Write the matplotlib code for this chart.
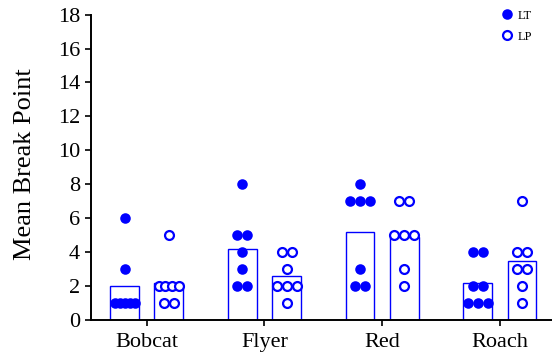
import numpy as np
import matplotlib.pyplot as plt
from matplotlib import rcParams

rcParams['font.family'] = ['Liberation Serif', 'DejaVu Serif']

# break points per animal
groups = ['Bobcat', 'Flyer', 'Red', 'Roach']
lt_values = [
    [6, 3, 1, 1, 1, 1, 1],
    [8, 5, 5, 4, 3, 2, 2],
    [8, 7, 7, 7, 3, 2, 2],
    [4, 4, 2, 2, 1, 1, 1],
]
lp_values = [
    [5, 2, 2, 2, 2, 1, 1],
    [4, 4, 3, 2, 2, 2, 1],
    [7, 7, 5, 5, 5, 3, 2],
    [7, 4, 4, 3, 3, 2, 1],
]
series_names = ['LT', 'LP']

BLUE = '#0000ff'


def spread(values, center, step=0.085, max_half=0.085):
    """equal values are laid out side by side around the center"""
    values = np.asarray(values, dtype=float)
    xs = np.zeros(len(values))
    for v in np.unique(values):
        idx = np.where(values == v)[0]
        n = len(idx)
        if n == 1:
            xs[idx] = center
            continue
        half = min(step * (n - 1) / 2.0, max_half)
        xs[idx] = center + np.linspace(-half, half, n)
    return xs, values


def draw():
    fig = plt.figure(figsize=(5.52, 3.53), dpi=100)
    ax = fig.add_axes([0.1649, 0.0949, 0.8351, 0.8635])

    x = np.arange(len(groups))
    off = 0.188
    width = 0.246

    lt_means = [np.mean(v) for v in lt_values]
    lp_means = [np.mean(v) for v in lp_values]
    ax.bar(x - off, lt_means, width, facecolor='white', edgecolor=BLUE,
           linewidth=1.0, zorder=2)
    ax.bar(x + off, lp_means, width, facecolor='white', edgecolor=BLUE,
           linewidth=1.0, zorder=2)

    for i in range(len(groups)):
        px, py = spread(lt_values[i], x[i] - off)
        ax.plot(px, py, 'o', color=BLUE, markersize=7.6, markeredgewidth=0,
                linestyle='none', zorder=3, label=series_names[0] if i == 0 else None)
        px, py = spread(lp_values[i], x[i] + off)
        ax.plot(px, py, 'o', markerfacecolor='white', markeredgecolor=BLUE,
                markersize=6.4, markeredgewidth=1.6, linestyle='none', zorder=3,
                label=series_names[1] if i == 0 else None)

    ax.set_xlim(-0.473, 3.443)
    ax.set_ylim(0, 18)
    ax.set_yticks(np.arange(0, 19, 2))
    ax.set_xticks(x)
    ax.set_xticklabels(groups)
    ax.tick_params(labelsize=16, width=1.2, length=4.5, color='black')
    ax.tick_params(axis='x', pad=5)
    ax.spines['top'].set_visible(False)
    ax.spines['right'].set_visible(False)
    ax.spines['left'].set_linewidth(1.4)
    ax.spines['bottom'].set_linewidth(1.4)
    ax.spines['left'].set_bounds(0, 18)
    ax.set_ylabel('Mean Break Point', fontsize=19)
    ax.yaxis.set_label_coords(-0.119, 0.51)

    ax.legend(loc='upper right', bbox_to_anchor=(0.982, 1.053), frameon=False,
              fontsize=9, handlelength=0.8, handletextpad=0.5, labelspacing=0.7)

    fig.savefig('out.png', dpi=100)


if __name__ == '__main__':
    draw()
